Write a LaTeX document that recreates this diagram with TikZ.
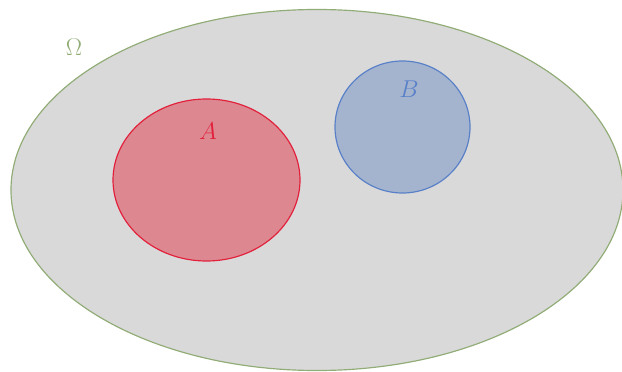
\documentclass[tikz,border=0pt]{standalone}
\usepackage{tikz}
\usetikzlibrary{shapes.geometric}
\definecolor{omegagreen}{RGB}{145,172,118}
\definecolor{setred}{RGB}{226,32,60}
\definecolor{setblue}{RGB}{88,128,200}
\definecolor{afill}{RGB}{221,136,144}
\definecolor{bfill}{RGB}{165,180,206}

\begin{document}
\begin{tikzpicture}[
    x=0.03cm,y=-0.03cm,
    universe/.style={ellipse,draw=omegagreen,fill=black!15,line width=1pt,inner sep=0pt},
    seta/.style={ellipse,draw=setred,fill=afill,line width=1pt,inner sep=0pt},
    setb/.style={ellipse,draw=setblue,fill=bfill,line width=1pt,inner sep=0pt},
    setname/.style={font=\fontsize{22pt}{26pt}\selectfont}
]
\useasboundingbox (0,0) rectangle (622,372);
\node[universe,minimum width=18.36cm,minimum height=10.83cm] (omega) at (317,190) {};
\node[setname,omegagreen] (omegalabel) at (74,47) {$\Omega$};
\node[seta,minimum width=5.61cm,minimum height=4.86cm] (a) at (206.5,180) {};
\node[setname,setred] (alabel) at (208,131) {$A$};
\node[setb,minimum width=4.05cm,minimum height=3.96cm] (b) at (402.5,127) {};
\node[setname,setblue] (blabel) at (409,89) {$B$};
\end{tikzpicture}
\end{document}
